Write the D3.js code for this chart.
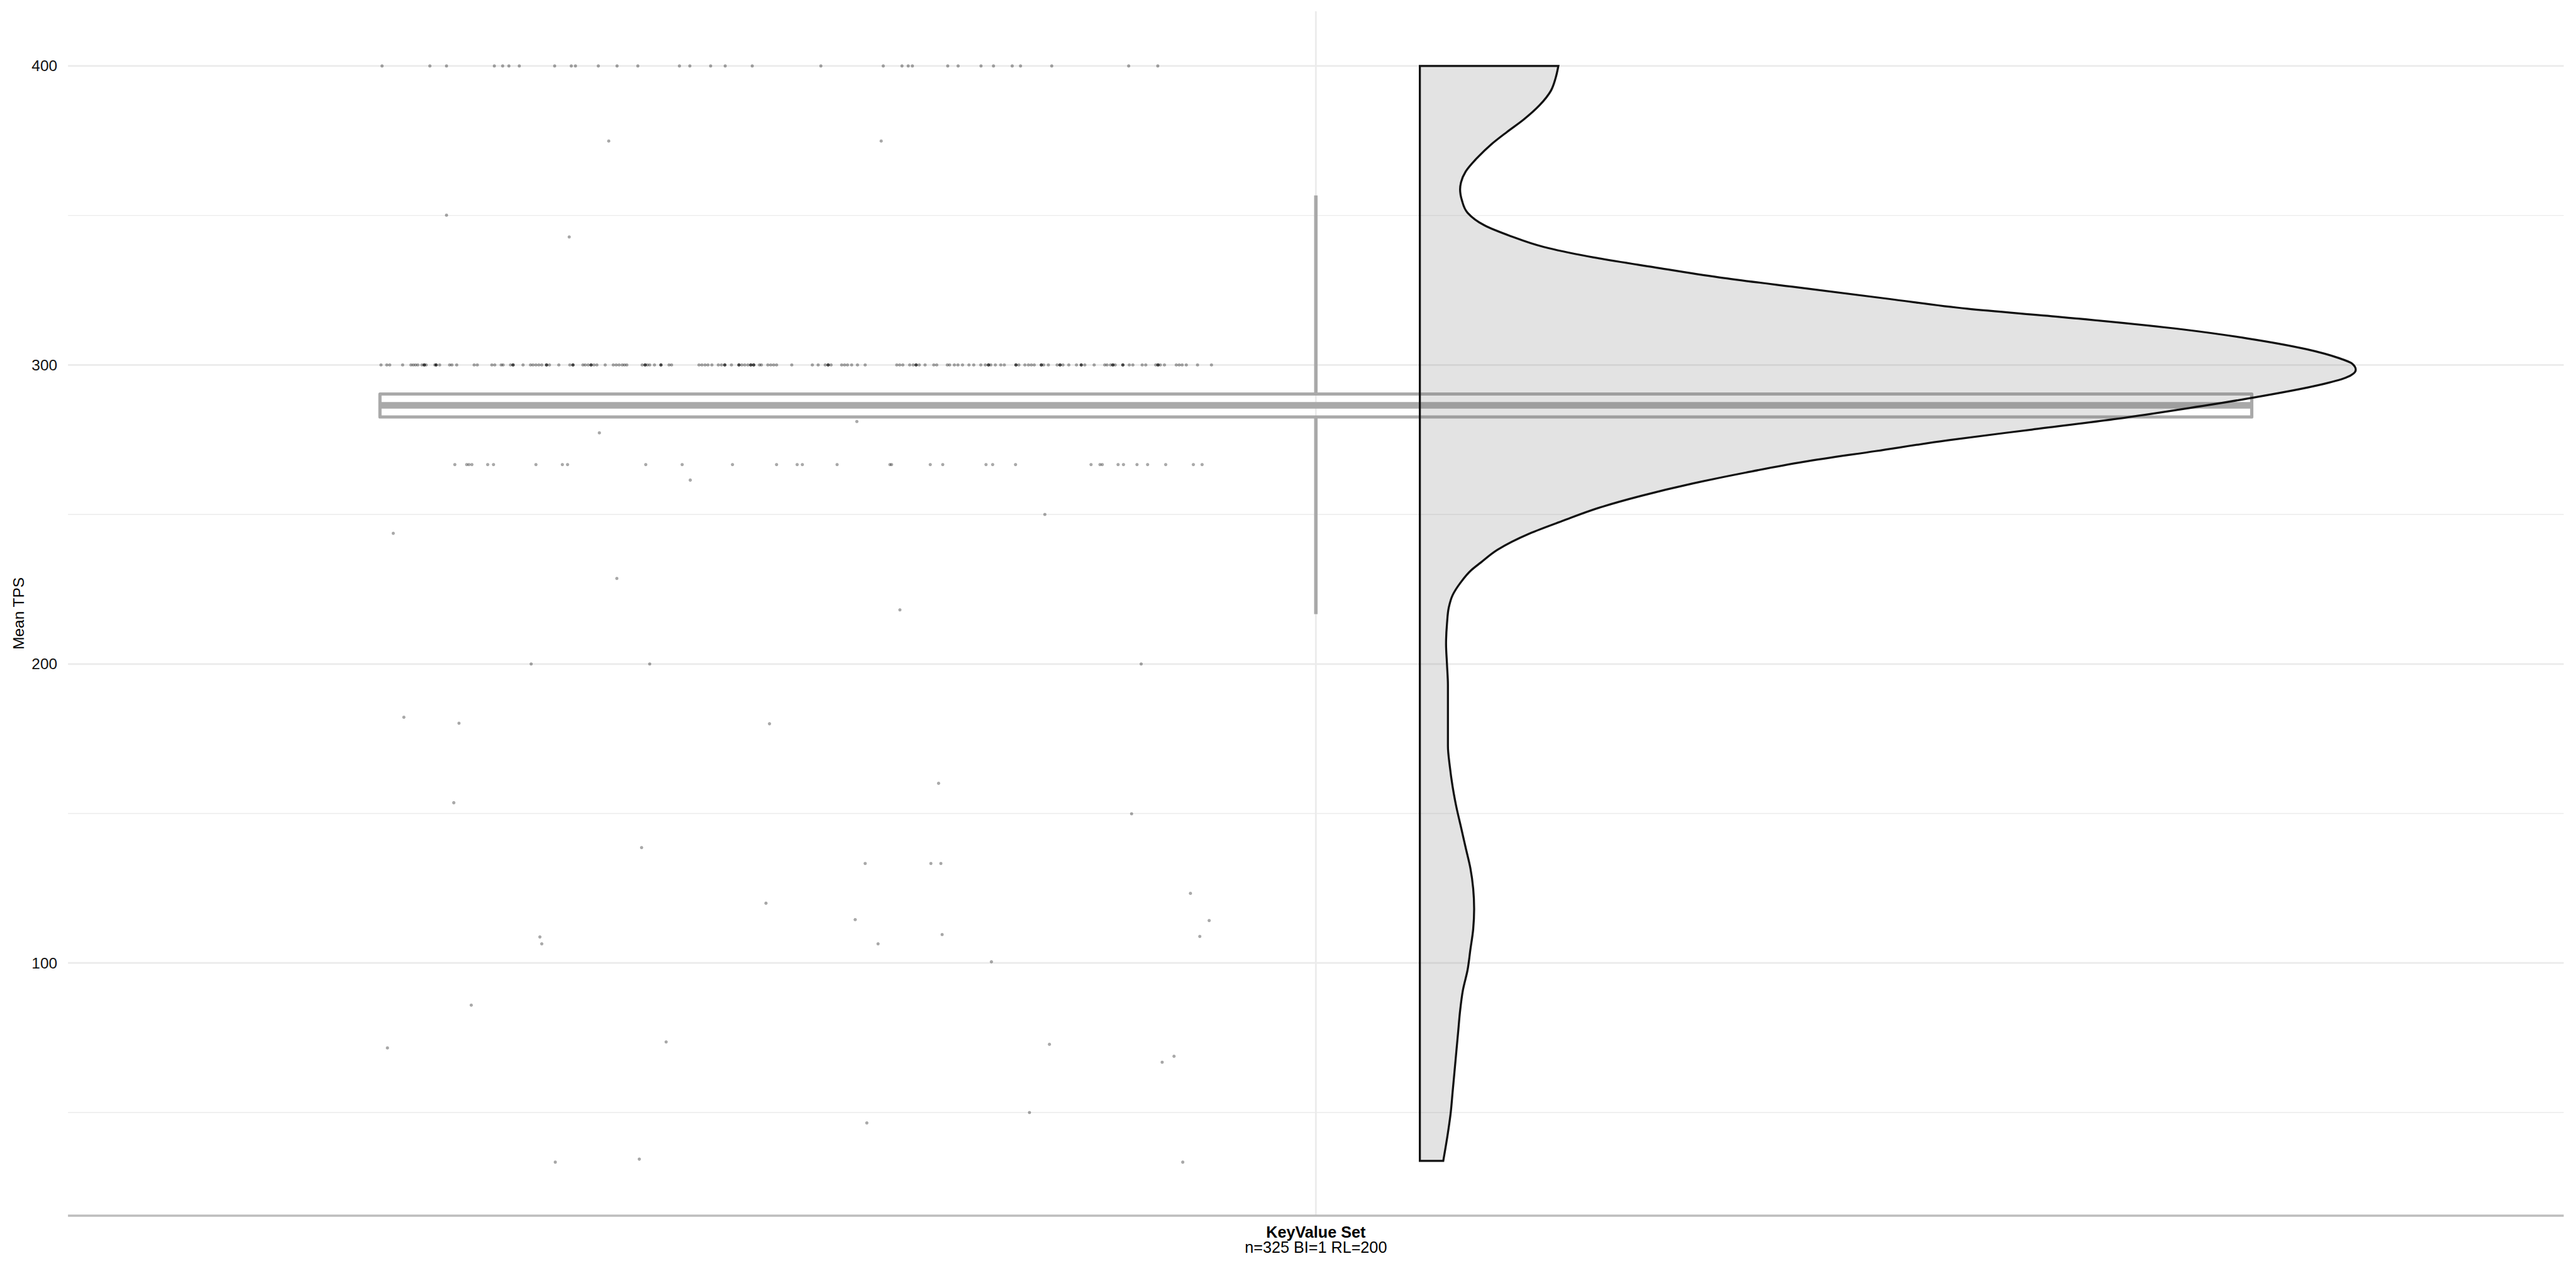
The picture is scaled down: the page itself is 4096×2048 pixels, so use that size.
<!DOCTYPE html>
<html><head><meta charset="utf-8">
<script src="https://cdn.jsdelivr.net/npm/d3@7"></script>
<style>html,body{margin:0;padding:0;background:#fff;} svg{display:block;}</style>
</head><body>
<svg id="chart" width="4096" height="2048"></svg>
<script>
// ---------------- data ----------------
const categoryName = "KeyValue Set";
const categorySub = "n=325 BI=1 RL=200";
const yTitle = "Mean TPS";
const yTicks = [100, 200, 300, 400];
const yMinorTicks = [50, 150, 250, 350];

// box plot stats: lower whisker, Q1, median, Q3, upper whisker
const boxStats = [216.7, 282.6, 286.5, 290.3, 356.7];

// half violin: values and relative density (max = 1)
const violinValues = [400.0, 395.9, 391.7, 386.9, 382.1, 377.9, 373.7, 369.5, 364.7, 361.1, 358.7, 355.0, 350.9, 346.7, 343.1, 339.5, 336.3, 332.7, 329.3, 325.7, 322.1, 318.8, 316.1, 311.9, 308.9, 305.3, 302.3, 300.5, 298.4, 295.7, 293.3, 289.1, 285.6, 282.0, 278.4, 274.8, 271.2, 267.6, 264.0, 260.4, 256.2, 252.6, 247.8, 243.6, 238.2, 233.9, 231.4, 227.0, 223.0, 219.0, 213.5, 206.7, 199.9, 193.0, 186.2, 179.4, 172.6, 165.8, 159.0, 152.2, 145.4, 138.5, 131.7, 124.9, 118.1, 111.3, 104.5, 97.7, 90.9, 84.0, 77.2, 70.4, 63.6, 56.8, 50.0, 43.2, 33.8];
const violinDensity = [0.148, 0.145, 0.140, 0.128, 0.111, 0.093, 0.076, 0.062, 0.049, 0.044, 0.043, 0.045, 0.051, 0.069, 0.097, 0.132, 0.180, 0.250, 0.320, 0.410, 0.501, 0.585, 0.683, 0.815, 0.884, 0.947, 0.982, 0.996, 1.000, 0.989, 0.961, 0.891, 0.822, 0.745, 0.654, 0.564, 0.487, 0.410, 0.348, 0.292, 0.236, 0.195, 0.152, 0.117, 0.083, 0.065, 0.055, 0.043, 0.035, 0.031, 0.029, 0.028, 0.029, 0.030, 0.030, 0.030, 0.030, 0.032, 0.035, 0.039, 0.044, 0.049, 0.054, 0.057, 0.058, 0.057, 0.054, 0.051, 0.046, 0.043, 0.041, 0.039, 0.037, 0.035, 0.033, 0.030, 0.025];

// jittered points (x in category units, category centre = 1)
const row400X = [0.551, 0.574, 0.582, 0.605, 0.609, 0.612, 0.617, 0.634, 0.642, 0.644, 0.655, 0.664, 0.674, 0.694, 0.699, 0.709, 0.716, 0.729, 0.762, 0.792, 0.801, 0.804, 0.806, 0.823, 0.828, 0.839, 0.845, 0.854, 0.858, 0.873, 0.910, 0.924];
const row300X = [0.5505, 0.5533, 0.5547, 0.5609, 0.5649, 0.5660, 0.5671, 0.5682, 0.5702, 0.5713, 0.5713, 0.5713, 0.5722, 0.5764, 0.5770, 0.5770, 0.5770, 0.5787, 0.5835, 0.5846, 0.5869, 0.5953, 0.5968, 0.6038, 0.6052, 0.6083, 0.6092, 0.6128, 0.6140, 0.6140, 0.6140, 0.6188, 0.6224, 0.6236, 0.6250, 0.6264, 0.6278, 0.6301, 0.6301, 0.6301, 0.6315, 0.6360, 0.6413, 0.6428, 0.6428, 0.6428, 0.6476, 0.6487, 0.6501, 0.6515, 0.6515, 0.6515, 0.6529, 0.6543, 0.6583, 0.6622, 0.6636, 0.6650, 0.6665, 0.6676, 0.6687, 0.6761, 0.6775, 0.6775, 0.6775, 0.6786, 0.6797, 0.6820, 0.6851, 0.6851, 0.6851, 0.6890, 0.6902, 0.7034, 0.7048, 0.7063, 0.7077, 0.7096, 0.7127, 0.7142, 0.7158, 0.7158, 0.7158, 0.7190, 0.7226, 0.7226, 0.7226, 0.7240, 0.7254, 0.7269, 0.7283, 0.7283, 0.7283, 0.7297, 0.7297, 0.7297, 0.7325, 0.7334, 0.7365, 0.7379, 0.7393, 0.7407, 0.7480, 0.7579, 0.7607, 0.7641, 0.7655, 0.7655, 0.7655, 0.7669, 0.7720, 0.7734, 0.7748, 0.7768, 0.7796, 0.7833, 0.7985, 0.7999, 0.8014, 0.8047, 0.8064, 0.8078, 0.8078, 0.8078, 0.8093, 0.8121, 0.8163, 0.8177, 0.8228, 0.8239, 0.8262, 0.8279, 0.8301, 0.8332, 0.8355, 0.8389, 0.8411, 0.8426, 0.8426, 0.8426, 0.8437, 0.8459, 0.8485, 0.8502, 0.8558, 0.8558, 0.8558, 0.8572, 0.8601, 0.8618, 0.8632, 0.8646, 0.8680, 0.8680, 0.8680, 0.8691, 0.8714, 0.8756, 0.8770, 0.8770, 0.8770, 0.8784, 0.8812, 0.8849, 0.8872, 0.8872, 0.8872, 0.8889, 0.8934, 0.8985, 0.8996, 0.9013, 0.9024, 0.9024, 0.9024, 0.9035, 0.9072, 0.9072, 0.9072, 0.9103, 0.9120, 0.9165, 0.9182, 0.9230, 0.9241, 0.9241, 0.9241, 0.9252, 0.9272, 0.9329, 0.9343, 0.9357, 0.9377, 0.9431, 0.9498];
const row267X = [0.5860, 0.5917, 0.5928, 0.5942, 0.6018, 0.6046, 0.6250, 0.6377, 0.6402, 0.6778, 0.6953, 0.7195, 0.7407, 0.7506, 0.7531, 0.7698, 0.7952, 0.7960, 0.8146, 0.8206, 0.8414, 0.8446, 0.8556, 0.8919, 0.8962, 0.8973, 0.9049, 0.9075, 0.9140, 0.9191, 0.9278, 0.9411, 0.9453];
const scatterX = [0.660, 0.791, 0.582, 0.641, 0.6555, 0.7793, 0.6992, 0.8697, 0.5564, 0.6639, 0.8000, 0.6227, 0.6797, 0.9160, 0.5615, 0.5880, 0.7373, 0.8186, 0.5855, 0.9114, 0.6758, 0.7833, 0.8149, 0.8197, 0.7356, 0.9397, 0.7785, 0.9487, 0.6269, 0.6278, 0.7895, 0.8203, 0.9442, 0.8440, 0.5939, 0.5536, 0.6876, 0.8719, 0.9318, 0.9261, 0.7841, 0.8623, 0.6343, 0.6747, 0.9360];
const scatterY = [374.9, 374.9, 350.1, 342.8, 277.3, 281.1, 261.5, 250.0, 243.7, 228.6, 218.1, 200.0, 200.0, 200.0, 182.2, 180.2, 180.0, 160.1, 153.6, 149.9, 138.6, 133.3, 133.3, 133.3, 120.0, 123.3, 114.5, 114.2, 108.7, 106.4, 106.4, 109.5, 108.9, 100.4, 85.9, 71.6, 73.6, 72.8, 68.8, 66.8, 46.5, 50.0, 33.4, 34.4, 33.4];

// ---------------- drawing ----------------
const S = 4096 / 5039;
const svg = d3.select("#chart");
const FONT = "'Liberation Sans', Arial, sans-serif";

const x = d3.scaleLinear().domain([0.4, 1.6]).range([133 * S, 5015 * S]);
const y = d3.scaleLinear().domain([15.5, 418.3]).range([2378 * S, 22 * S]);

const grid = svg.append("g");
grid.selectAll("line.minor").data(yMinorTicks).join("line")
  .attr("x1", x(0.4)).attr("x2", x(1.6))
  .attr("y1", d => y(d)).attr("y2", d => y(d))
  .attr("stroke", "#ebebeb").attr("stroke-width", 1.7 * S);
grid.selectAll("line.major").data(yTicks).join("line")
  .attr("x1", x(0.4)).attr("x2", x(1.6))
  .attr("y1", d => y(d)).attr("y2", d => y(d))
  .attr("stroke", "#ebebeb").attr("stroke-width", 3.4 * S);
grid.append("line")
  .attr("x1", x(1)).attr("x2", x(1))
  .attr("y1", y.range()[1]).attr("y2", y.range()[0])
  .attr("stroke", "#ebebeb").attr("stroke-width", 3.4 * S);

// x axis line
svg.append("line")
  .attr("x1", x(0.4)).attr("x2", x(1.6))
  .attr("y1", y.range()[0]).attr("y2", y.range()[0])
  .attr("stroke", "#bdbdbd").attr("stroke-width", 4.5 * S);

// points
const pts = [];
row400X.forEach(v => pts.push([v, 400]));
row300X.forEach(v => pts.push([v, 300]));
row267X.forEach(v => pts.push([v, 266.7]));
scatterX.forEach((v, i) => pts.push([v, scatterY[i]]));
svg.append("g").selectAll("circle").data(pts).join("circle")
  .attr("cx", d => x(d[0])).attr("cy", d => y(d[1]))
  .attr("r", 2.8 * S)
  .attr("fill", "rgba(0,0,0,0.33)")
  .attr("stroke", "rgba(0,0,0,0.22)").attr("stroke-width", 0.8 * S);

// box plot
const [wLo, q1, med, q3, wHi] = boxStats;
const boxG = svg.append("g").attr("stroke", "#a9a9a9").attr("fill", "none");
boxG.append("line").attr("x1", x(1)).attr("x2", x(1)).attr("y1", y(q3)).attr("y2", y(wHi)).attr("stroke-width", 6.8 * S);
boxG.append("line").attr("x1", x(1)).attr("x2", x(1)).attr("y1", y(q1)).attr("y2", y(wLo)).attr("stroke-width", 6.8 * S);
boxG.append("rect")
  .attr("x", x(0.55)).attr("width", x(1.45) - x(0.55))
  .attr("y", y(q3)).attr("height", y(q1) - y(q3))
  .attr("stroke-width", 6.3 * S).attr("stroke-linejoin", "round");
boxG.append("line").attr("x1", x(0.55)).attr("x2", x(1.45)).attr("y1", y(med)).attr("y2", y(med)).attr("stroke-width", 13 * S);

// half violin
const vx0 = 1.05, vMaxW = 0.45;
const contourPts = violinValues.map((v, i) => [x(vx0 + vMaxW * violinDensity[i]), y(v)]);
const contour = d3.line().curve(d3.curveMonotoneY)(contourPts);
const vTop = violinValues[0], vBot = violinValues[violinValues.length - 1];
const violinPath = "M" + x(vx0) + "," + y(vBot) + "L" + x(vx0) + "," + y(vTop) + "L" + contour.slice(1) + "Z";
svg.append("path").attr("d", violinPath)
  .attr("fill", "rgba(115,115,115,0.2)")
  .attr("stroke", "#111").attr("stroke-width", 4 * S).attr("stroke-linejoin", "miter");

// y tick labels
svg.append("g").selectAll("text").data(yTicks).join("text")
  .attr("x", 112 * S).attr("y", d => y(d)).attr("dy", "0.35em")
  .attr("text-anchor", "end").attr("font-family", FONT).attr("font-size", 30 * S)
  .attr("fill", "#111").text(d => d);

// y title
svg.append("text")
  .attr("transform", `translate(${47 * S},${1200 * S}) rotate(-90)`)
  .attr("text-anchor", "middle").attr("font-family", FONT).attr("font-size", 30 * S)
  .attr("fill", "#000").text(yTitle);

// x category labels
svg.append("text").attr("x", x(1)).attr("y", 2421 * S)
  .attr("text-anchor", "middle").attr("font-family", FONT).attr("font-size", 31 * S)
  .attr("font-weight", "bold").attr("fill", "#000").text(categoryName);
svg.append("text").attr("x", x(1)).attr("y", 2450 * S)
  .attr("text-anchor", "middle").attr("font-family", FONT).attr("font-size", 31 * S)
  .attr("fill", "#000").text(categorySub);
</script></body></html>
